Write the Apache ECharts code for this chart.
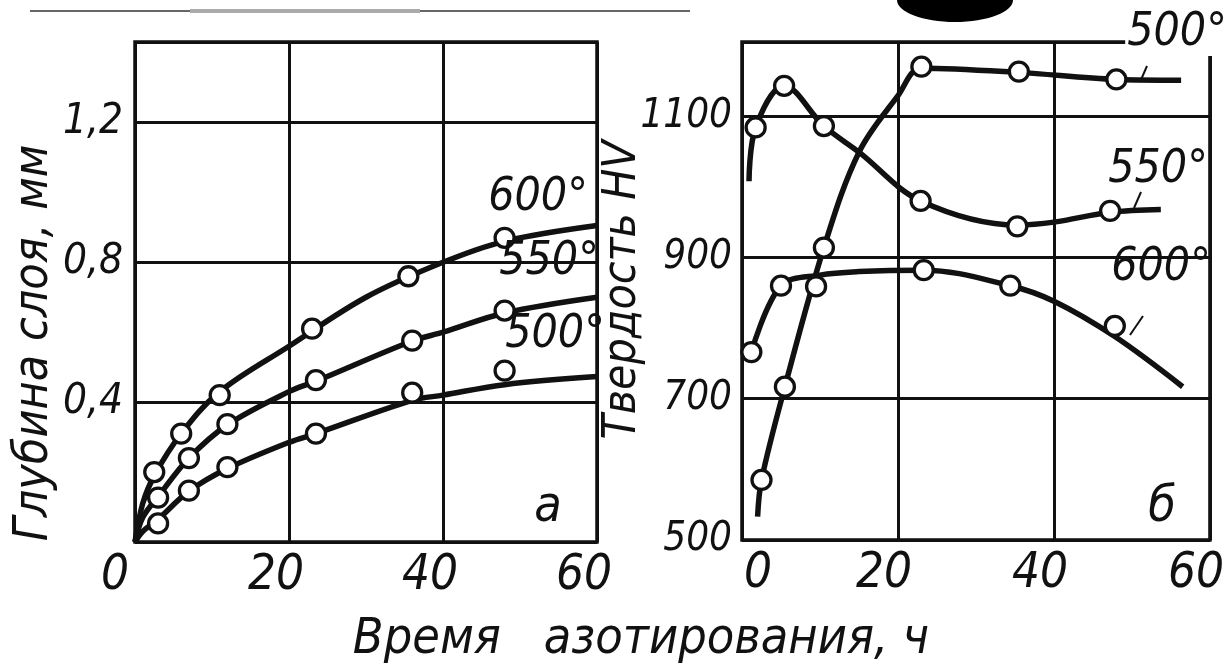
<!DOCTYPE html>
<html><head><meta charset="utf-8">
<script src="https://cdn.jsdelivr.net/npm/echarts@6/dist/echarts.min.js"></script>
<style>html,body{margin:0;padding:0;background:#fff}#c{width:1227px;height:670px}</style>
</head><body><div id="c"></div>
<script>
// ---- tick labels ----
const xTickLabels = ['0', '20', '40', '60'];
const depthTickLabels = ['0,4', '0,8', '1,2'];
const hardTickLabels = ['500', '700', '900', '1100'];
const tempLabels = ['600°', '550°', '500°'];

// ---- panel а: depth of nitrided layer, mm (measured points) ----
const depthPts600 = [[2.5, 0.20], [6, 0.31], [11, 0.42], [23, 0.61], [35.5, 0.76], [48, 0.87]];
const depthPts550 = [[3, 0.127], [7, 0.24], [12, 0.337], [23.5, 0.463], [36, 0.576], [48, 0.662]];
const depthPts500 = [[3, 0.053], [7, 0.147], [12, 0.214], [23.5, 0.31], [36, 0.427], [48, 0.49]];
// fitted curves
const depthCurve600 = [[0, 0], [1, 0.11], [2.5, 0.19], [6, 0.31], [11, 0.43], [20, 0.56], [30, 0.70], [40, 0.80], [48, 0.86], [60, 0.905]];
const depthCurve550 = [[0, 0], [1, 0.07], [3, 0.13], [7, 0.24], [12, 0.335], [20, 0.43], [23.5, 0.46], [36, 0.575], [40, 0.60], [48, 0.655], [60, 0.70]];
const depthCurve500 = [[0, 0], [1, 0.03], [3, 0.065], [7, 0.145], [12, 0.21], [20, 0.285], [23.5, 0.31], [36, 0.405], [40, 0.42], [48, 0.45], [60, 0.473]];

// ---- panel б: hardness HV (measured points) ----
const hardPts500 = [[2.5, 585], [5.5, 717], [10.5, 914], [23, 1170], [35.5, 1163], [48, 1152]];
const hardPts550 = [[1.75, 1084], [5.4, 1143], [10.5, 1086], [22.9, 980], [35.3, 944], [47.2, 966]];
const hardPts600 = [[1.2, 766], [5, 860], [9.5, 859], [23.3, 882], [34.4, 860], [47.8, 803]];
// fitted curves
const hardCurve500 = [[2, 533], [2.5, 585], [5.5, 717], [10.5, 914], [15, 1049], [20, 1129], [23, 1168], [35.5, 1162], [48, 1152], [56.3, 1151]];
const hardCurve550 = [[0.9, 1008], [1.75, 1084], [5.4, 1143], [10.5, 1086], [15, 1049], [22.9, 980], [35.3, 946], [40, 950], [47.2, 964], [53.7, 968]];
const hardCurve600 = [[1.2, 766], [5, 860], [10, 875], [15, 880], [23.3, 882], [34.4, 860], [40, 838], [47.8, 788], [56.5, 717]];

const F = "'Liberation Sans Narrow','DejaVu Sans Condensed','Liberation Sans',sans-serif";
const INK = '#111';

function curve(data, xi) {
  return { type: 'line', xAxisIndex: xi, yAxisIndex: xi, data, smooth: 0.35, smoothMonotone: null,
    showSymbol: false, symbol: 'none', lineStyle: { color: INK, width: 5.5 }, z: 2, silent: true };
}
function pts(data, xi) {
  return { type: 'scatter', xAxisIndex: xi, yAxisIndex: xi, data, symbol: 'circle', symbolSize: 19,
    itemStyle: { color: '#fff', borderColor: INK, borderWidth: 3.3, opacity: 1 }, z: 4, silent: true };
}
function xAxisCfg(gi, shift0, shiftN) {
  return {
    type: 'value', gridIndex: gi, min: 0, max: 60, interval: 20,
    axisLine: { show: false }, axisTick: { show: false },
    splitLine: { show: true, lineStyle: { color: INK, width: 3 } },
    axisLabel: {
      margin: 10,
      formatter: v => { const i = xTickLabels.indexOf(String(v)); const t = i >= 0 ? xTickLabels[i] : ''; return v === 0 ? '{z|' + t + '}' : '{n|' + t + '}'; },
      rich: {
        z: { fontFamily: F, fontStyle: 'italic', fontSize: 49, color: INK, padding: shift0 },
        n: { fontFamily: F, fontStyle: 'italic', fontSize: 49, color: INK, padding: shiftN }
      }
    }
  };
}
function t(text, x, y, size, extra) {
  return Object.assign({ type: 'text', x, y, z: 10,
    style: Object.assign({ text, fontFamily: F, fontStyle: 'italic', fontSize: size, fill: INK, align: 'center', verticalAlign: 'middle' }, extra || {}) });
}

const option = {
  animation: false,
  backgroundColor: '#fff',
  grid: [
    { left: 135, top: 42, width: 462, height: 500, show: true, borderColor: INK, borderWidth: 3.5, backgroundColor: 'transparent' },
    { left: 742, top: 42, width: 470, height: 498, show: true, borderColor: INK, borderWidth: 3.5, backgroundColor: 'transparent' }
  ],
  xAxis: [
    xAxisCfg(0, [0, 40, 0, 0], [0, 26, 0, 0]),
    xAxisCfg(1, [0, 0, 0, 32], [0, 28, 0, 0])
  ],
  yAxis: [
    {
      type: 'value', gridIndex: 0, min: 0, max: 1.43, interval: 0.4,
      axisLine: { show: false }, axisTick: { show: false },
      splitLine: { show: true, lineStyle: { color: INK, width: 3 } },
      axisLabel: {
        margin: 12, fontFamily: F, fontStyle: 'italic', fontSize: 42, color: INK,
        formatter: v => { const k = Math.round(v / 0.4) - 1; return (Math.abs(v - (k + 1) * 0.4) < 1e-6 && k >= 0 && k < depthTickLabels.length) ? depthTickLabels[k] : ''; }
      }
    },
    {
      type: 'value', gridIndex: 1, min: 500, max: 1205, interval: 200,
      axisLine: { show: false }, axisTick: { show: false },
      splitLine: { show: true, lineStyle: { color: INK, width: 3 } },
      axisLabel: {
        margin: 10, fontFamily: F, fontStyle: 'italic', fontSize: 40, color: INK,
        formatter: v => { const i = hardTickLabels.indexOf(String(v)); return i >= 0 ? hardTickLabels[i] : ''; }
      }
    }
  ],
  series: [
    curve(depthCurve600, 0), curve(depthCurve550, 0), curve(depthCurve500, 0),
    pts(depthPts600, 0), pts(depthPts550, 0), pts(depthPts500, 0),
    curve(hardCurve500, 1), curve(hardCurve550, 1), curve(hardCurve600, 1),
    pts(hardPts500, 1), pts(hardPts550, 1), pts(hardPts600, 1)
  ],
  graphic: [
    // scan artefacts at the top edge
    { type: 'line', shape: { x1: 30, y1: 11, x2: 690, y2: 11 }, style: { stroke: '#333', lineWidth: 1.5 }, z: 1 },
    { type: 'line', shape: { x1: 190, y1: 11, x2: 420, y2: 11 }, style: { stroke: '#aaa', lineWidth: 4 }, z: 1 },
    { type: 'ellipse', shape: { cx: 955, cy: 0, rx: 58, ry: 22 }, style: { fill: '#000' }, z: 1 },
    // axis titles
    Object.assign(t('Глубина слоя, мм', 35, 343, 48), { rotation: Math.PI / 2 }),
    Object.assign(t('Твердость HV', 623, 290, 46), { rotation: Math.PI / 2 }),
    t('Время   азотирования, ч', 641, 640, 50),
    // curve labels, panel а
    t(tempLabels[0], 538, 198, 46),
    t(tempLabels[1], 549, 262, 46),
    t(tempLabels[2], 555, 335, 46),
    // curve labels, panel б
    t(tempLabels[2], 1177, 33, 46, { backgroundColor: '#fff', padding: [0, 2] }),
    t(tempLabels[1], 1158, 170, 46),
    t(tempLabels[0], 1161, 268, 46),
    // leader marks
    { type: 'line', shape: { x1: 1140, y1: 82, x2: 1147, y2: 66 }, style: { stroke: INK, lineWidth: 2 }, z: 10 },
    { type: 'line', shape: { x1: 1134, y1: 208, x2: 1141, y2: 192 }, style: { stroke: INK, lineWidth: 2 }, z: 10 },
    { type: 'line', shape: { x1: 1130, y1: 335, x2: 1143, y2: 316 }, style: { stroke: INK, lineWidth: 2 }, z: 10 },
    // panel letters
    t('а', 548, 508, 50),
    t('б', 1162, 508, 50)
  ]
};
const chart = echarts.init(document.getElementById('c'), null, { renderer: 'canvas' });
chart.setOption(option);
</script>
</body></html>
